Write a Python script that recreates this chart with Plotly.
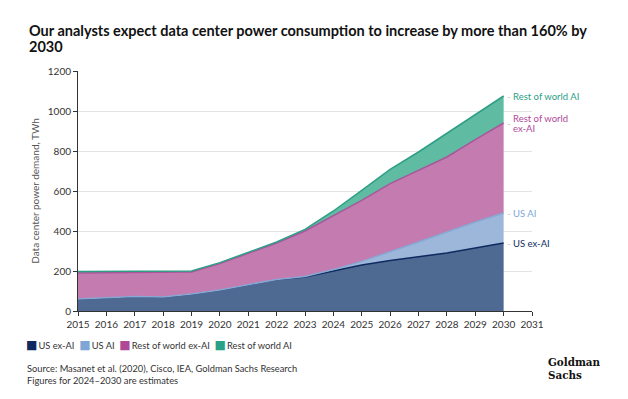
import plotly.graph_objects as go

years = list(range(2015, 2031))
us_ex_ai = [60, 65, 72, 70, 85, 105, 130, 158, 170, 200, 230, 253, 270, 290, 315, 340]
us_ai = [0, 0, 0, 0, 0, 0, 0, 0, 2, 7, 18, 42, 75, 105, 130, 150]
row_ex_ai = [130, 127, 121, 123, 110, 132, 157, 182, 228, 271, 305, 342, 358, 375, 412, 450]
row_ai = [8, 7, 6, 6, 5, 5, 5, 5, 8, 22, 50, 71, 92, 117, 125, 135]

names = ["US ex-AI", "US AI", "Rest of world ex-AI", "Rest of world AI"]
series = [us_ex_ai, us_ai, row_ex_ai, row_ai]
fills = ["#4f6a92", "#9db7da", "#c47bb0", "#5fbca3"]
lines = ["#0e2a5e", "#86a8d3", "#a8579a", "#2e9e86"]
legend_cols = ["#0d2b5e", "#7ea6d6", "#b0489a", "#2aa086"]
label_cols = ["#0d2b5e", "#7ea6d6", "#b0489a", "#2aa086"]
label_lines = [["US ex-AI"], ["US AI"], ["Rest of world", "ex-AI"], ["Rest of world AI"]]
title_lines = ["Our analysts expect data center power consumption to increase by more than 160% by", "2030"]

FONT = "Lato"
PT, PB = 70.7, 310.7


def py(p):
    return (PB - p) / (PB - PT)


def px(p):
    return (p - 78) / 454


fig = go.Figure()
for s, n, fc, lc in zip(series, names, fills, lines):
    fig.add_trace(go.Scatter(x=years, y=s, name=n, stackgroup="one", mode="lines",
                             line=dict(color=lc, width=1.5), fillcolor=fc, showlegend=False))

cum = [0] * len(years)
tops = []
for s in series:
    cum = [a + b for a, b in zip(cum, s)]
    tops.append(cum[-1])
for t, labs, c in zip(tops, label_lines, label_cols):
    fig.add_annotation(x=years[-1], y=t, text="-", xanchor="left", yanchor="middle",
                       showarrow=False, xshift=1, font=dict(family=FONT, size=9.5, color="#c8c8c8"))
    for i, lab in enumerate(labs):
        fig.add_annotation(x=years[-1], y=t, text=lab, xanchor="left", yanchor="middle",
                           showarrow=False, xshift=7, yshift=-10 * i + (5 if len(labs) > 1 else 0),
                           font=dict(family=FONT, size=9.5, color=c))

# title as two tight lines
for i, tl in enumerate(title_lines):
    fig.add_annotation(xref="paper", yref="paper", x=px(27), y=py(30 + 16 * i),
                       xanchor="left", yanchor="middle", showarrow=False,
                       text=f"<b>{tl}</b>", font=dict(family=FONT, size=14.5, color="#111"))

# legend as text
leg = "&nbsp;&nbsp;".join(
    f"<span style=\"color:{c}; font-family:'DejaVu Sans'; font-size:12px\">■</span>&#8201;{n}"
    for n, c in zip(names, legend_cols))
fig.add_annotation(xref="paper", yref="paper", x=px(24), y=py(345),
                   xanchor="left", yanchor="middle", showarrow=False, text=leg,
                   font=dict(family=FONT, size=9.3, color="#333"))

for i, sl in enumerate(["Source: Masanet et al. (2020), Cisco, IEA, Goldman Sachs Research",
                        "Figures for 2024–2030 are estimates"]):
    fig.add_annotation(xref="paper", yref="paper", x=px(25), y=py(368 + 12.5 * i),
                       xanchor="left", yanchor="middle", showarrow=False, text=sl,
                       font=dict(family=FONT, size=9.3, color="#333"))
for i, w in enumerate(["Goldman", "Sachs"]):
    fig.add_annotation(xref="paper", yref="paper", x=px(546), y=py(362 + 13 * i),
                       xanchor="left", yanchor="middle", showarrow=False,
                       text=f"<b>{w}</b>",
                       font=dict(family="DejaVu Serif Condensed, DejaVu Serif", size=11.5, color="#111"))

fig.update_layout(
    width=628, height=399,
    margin=dict(l=78, r=96, t=71, b=88),
    paper_bgcolor="white", plot_bgcolor="white",
    font=dict(family=FONT, size=10, color="#333"),
    showlegend=False,
)
fig.update_xaxes(range=[2015, 2031], tickmode="linear", dtick=1, showgrid=False,
                 showline=True, linecolor="#333", linewidth=1, ticks="outside", ticklen=4,
                 tickcolor="#333", tickfont=dict(size=10, color="#333"), zeroline=False)
fig.update_yaxes(range=[0, 1200], dtick=200, showgrid=True, gridcolor="#e3e3e3",
                 showline=True, linecolor="#333", linewidth=1, ticks="outside", ticklen=4,
                 tickcolor="#333", tickfont=dict(size=10, color="#333"), zeroline=False,
                 title=dict(text="Data center power demand, TWh", font=dict(size=10, color="#555"), standoff=6))

fig.write_html("out.html")
